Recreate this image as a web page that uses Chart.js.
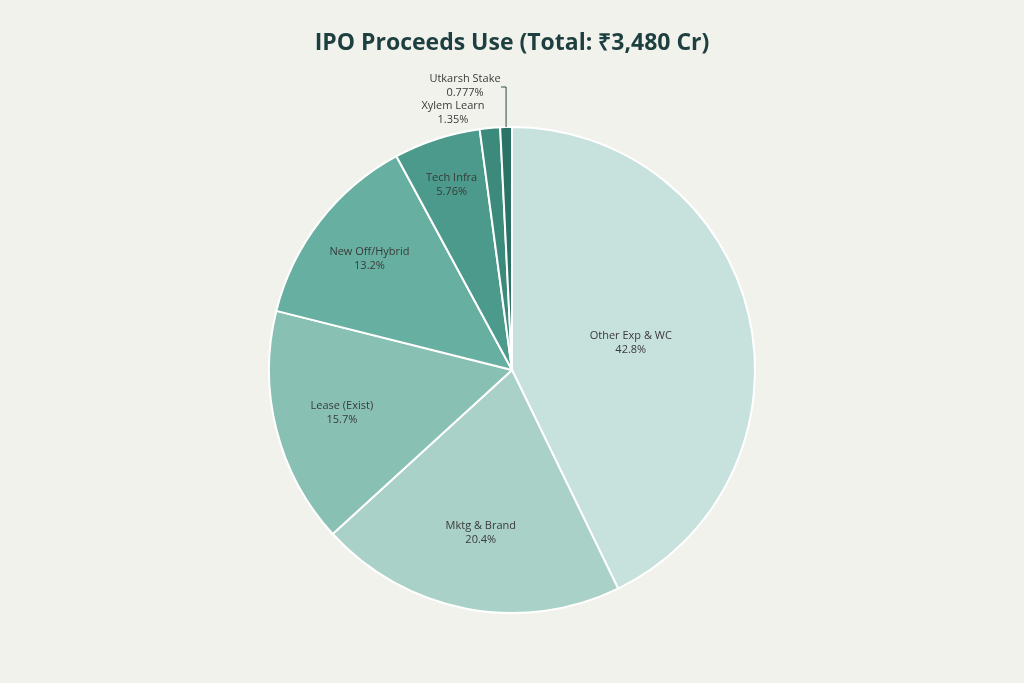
<!DOCTYPE html>
<html><head><meta charset="utf-8">
<script src="https://cdn.jsdelivr.net/npm/chart.js@4/dist/chart.umd.min.js"></script>
<style>html,body{margin:0;background:#f2f2ed;}#w{width:1024px;height:683px;position:relative}</style>
</head><body><div id="w"><canvas id="c"></canvas></div>
<script>
const categories = ["Other Exp & WC","Mktg & Brand","Lease (Exist)","New Off/Hybrid","Tech Infra","Xylem Learn","Utkarsh Stake"];
const shares = [42.8,20.4,15.7,13.2,5.76,1.35,0.777];
const shareLabels = ["42.8%","20.4%","15.7%","13.2%","5.76%","1.35%","0.777%"];
const colors = ["#c7e1dc","#a9d1c8","#89c0b4","#67b0a1","#4b9a8b","#3b8a7c","#2b7366"];
const titleText = 'IPO Proceeds Use (Total: ₹3,480 Cr)';

const labelPlugin = {
  id:'lbl',
  afterDatasetsDraw(chart){
    const ctx = chart.ctx, meta = chart.getDatasetMeta(0);
    const total = shares.reduce((a,b)=>a+b,0);
    ctx.save();
    ctx.font = 'bold 23px "Open Sans", sans-serif';
    ctx.fillStyle = '#1e3f3f';
    ctx.textAlign = 'center'; ctx.textBaseline = 'middle';
    ctx.fillText(titleText, chart.width/2, 43);
    ctx.font = '11px "Open Sans", sans-serif';
    ctx.fillStyle = '#3a3a3a';
    meta.data.forEach((arc,i)=>{
      const f = shares[i]/total;
      const mid = (arc.startAngle+arc.endAngle)/2;
      const R = arc.outerRadius;
      if (f > 0.03) {
        const r = R*(0.5+0.35*(1-f/0.43));
        const x = arc.x+Math.cos(mid)*r, y = arc.y+Math.sin(mid)*r;
        ctx.fillText(categories[i], x, y-7);
        ctx.fillText(shareLabels[i], x, y+7);
      } else if (i === 5) {
        ctx.fillText(categories[i], arc.x-59, arc.y-264);
        ctx.fillText(shareLabels[i], arc.x-59, arc.y-250);
      } else {
        const px = arc.x+Math.cos(mid)*R, py = arc.y+Math.sin(mid)*R;
        ctx.strokeStyle='#2b4a4a'; ctx.lineWidth=1;
        ctx.beginPath(); ctx.moveTo(px,py); ctx.lineTo(px,arc.y-283); ctx.lineTo(px-5,arc.y-283); ctx.stroke();
        ctx.fillText(categories[i], arc.x-47, arc.y-291);
        ctx.fillText(shareLabels[i], arc.x-47, arc.y-277);
      }
    });
    ctx.restore();
  }
};

new Chart(document.getElementById('c'),{
  type:'pie',
  data:{labels:categories,datasets:[{data:shares,backgroundColor:colors,borderColor:'#ffffff',borderWidth:2}]},
  options:{
    responsive:true,maintainAspectRatio:false,animation:false,
    layout:{padding:{top:126,bottom:69}},
    plugins:{legend:{display:false},tooltip:{enabled:false},title:{display:false}}
  },
  plugins:[labelPlugin]
});
</script></body></html>
